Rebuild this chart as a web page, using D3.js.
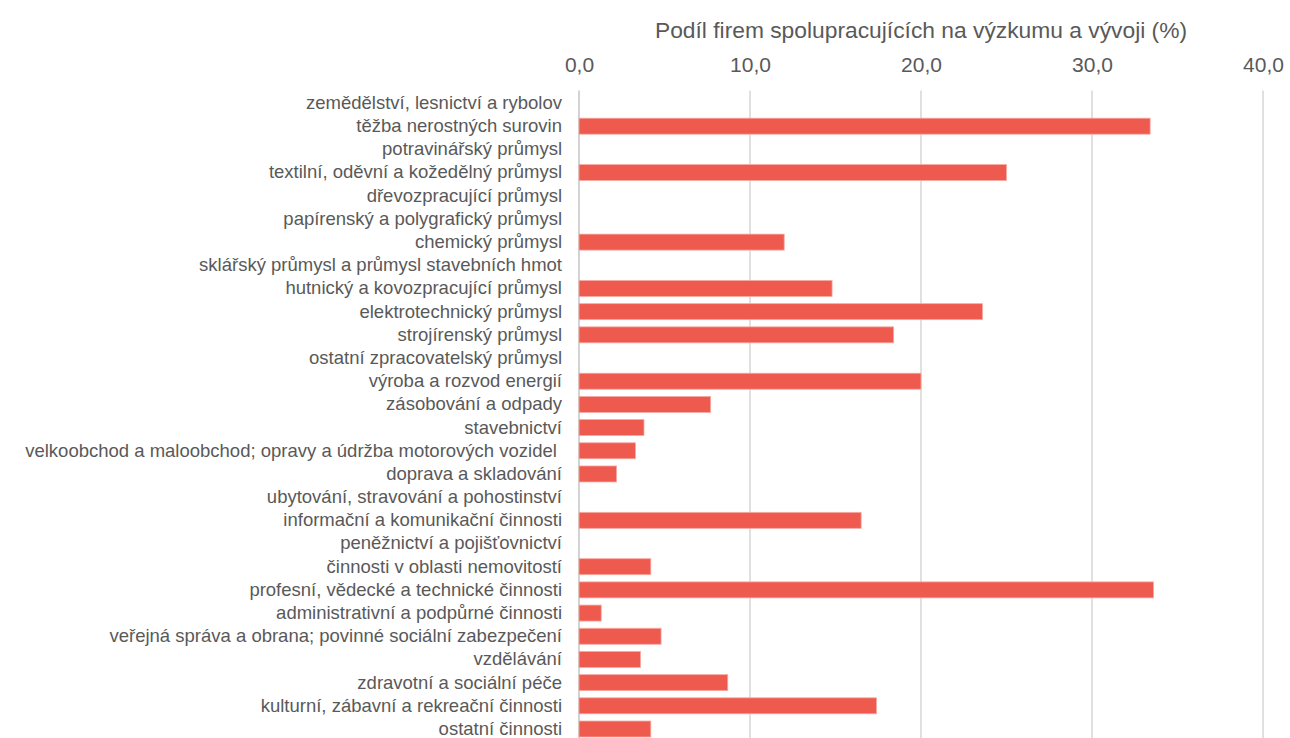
<!DOCTYPE html>
<html lang="cs">
<head>
<meta charset="utf-8">
<script src="https://cdn.jsdelivr.net/npm/d3@7"></script>
<style>
  html, body { margin: 0; padding: 0; background: #ffffff; }
  svg { display: block; }
  text { font-family: "Liberation Sans", Arial, sans-serif; fill: #595959; }
</style>
</head>
<body>
<svg id="chart" width="1290" height="738"></svg>
<script>
// Odvětví (shora dolů)
const categories = [
  "zemědělství, lesnictví a rybolov",
  "těžba nerostných surovin",
  "potravinářský průmysl",
  "textilní, oděvní a kožedělný průmysl",
  "dřevozpracující průmysl",
  "papírenský a polygrafický průmysl",
  "chemický průmysl",
  "sklářský průmysl a průmysl stavebních hmot",
  "hutnický a kovozpracující průmysl",
  "elektrotechnický průmysl",
  "strojírenský průmysl",
  "ostatní zpracovatelský průmysl",
  "výroba a rozvod energií",
  "zásobování a odpady",
  "stavebnictví",
  "velkoobchod a maloobchod; opravy a údržba motorových vozidel ",
  "doprava a skladování",
  "ubytování, stravování a pohostinství",
  "informační a komunikační činnosti",
  "peněžnictví a pojišťovnictví",
  "činnosti v oblasti nemovitostí",
  "profesní, vědecké a technické činnosti",
  "administrativní a podpůrné činnosti",
  "veřejná správa a obrana; povinné sociální zabezpečení",
  "vzdělávání",
  "zdravotní a sociální péče",
  "kulturní, zábavní a rekreační činnosti",
  "ostatní činnosti"
];

// Podíl firem spolupracujících na VaV (%), null = bez hodnoty
const shares = [
  null, 33.4, null, 25.0, null, null, 12.0, null, 14.8, 23.6,
  18.4, null, 20.0, 7.7, 3.8, 3.3, 2.2, null, 16.5, null,
  4.2, 33.6, 1.3, 4.8, 3.6, 8.7, 17.4, 4.2
];

const xTicks = [0, 10, 20, 30, 40];
const axisTitle = "Podíl firem spolupracujících na výzkumu a vývoji (%)";

const svg = d3.select("#chart");
const margin = { top: 91.4, left: 579, right: 27, bottom: -2.6 };
const W = 1290, H = 738;

const x = d3.scaleLinear()
  .domain([0, 40])
  .range([margin.left, W - margin.right]);

const y = d3.scaleBand()
  .domain(categories)
  .range([margin.top, H - margin.bottom])
  .paddingInner(0.31)
  .paddingOuter(0.155);

const fmt = v => d3.format(".1f")(v).replace(".", ",");

// svislé mřížky
svg.append("g")
  .selectAll("line")
  .data(xTicks)
  .join("line")
  .attr("x1", d => x(d)).attr("x2", d => x(d))
  .attr("y1", margin.top - 1).attr("y2", H)
  .attr("stroke", d => d === 0 ? "#c8c8c8" : "#d9d9d9")
  .attr("stroke-width", 1.6);

// osa x nahoře
const xAxis = svg.append("g")
  .attr("transform", `translate(0,${margin.top - 19.6})`)
  .call(d3.axisTop(x).tickValues(xTicks).tickFormat(fmt).tickSize(0).tickPadding(0));
xAxis.select(".domain").remove();
xAxis.selectAll("text")
  .style("font-size", "21px")
  .attr("fill", "#595959");

// název osy
svg.append("text")
  .attr("x", (x(0) + x(40)) / 2)
  .attr("y", 38)
  .attr("text-anchor", "middle")
  .style("font-size", "22.8px")
  .text(axisTitle);

// popisky kategorií
const yAxis = svg.append("g")
  .attr("transform", `translate(${margin.left},0)`)
  .call(d3.axisLeft(y).tickSize(0).tickPadding(17));
yAxis.select(".domain").remove();
yAxis.selectAll("text")
  .style("font-size", "18.5px")
  .style("white-space", "pre")
  .attr("fill", "#595959");

// pruhy
svg.append("g")
  .selectAll("rect")
  .data(categories.map((c, i) => ({ c, v: shares[i] })).filter(d => d.v != null))
  .join("rect")
  .attr("x", x(0))
  .attr("y", d => y(d.c))
  .attr("width", d => x(d.v) - x(0))
  .attr("height", y.bandwidth())
  .attr("fill", "#ef5a4e")
  .attr("stroke", "#f6aaa4")
  .attr("stroke-width", 0.8);
</script>
</body>
</html>
